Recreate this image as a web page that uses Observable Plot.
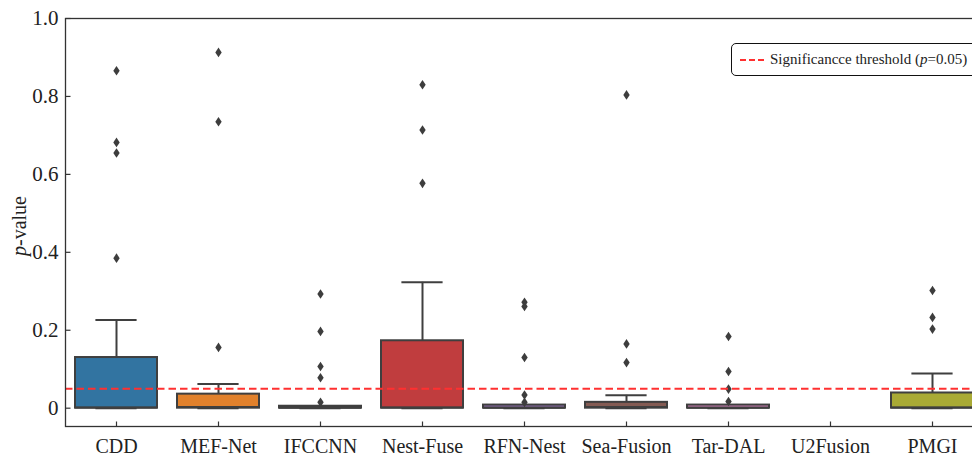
<!DOCTYPE html>
<html><head><meta charset="utf-8">
<script src="https://cdn.jsdelivr.net/npm/d3@7"></script>
<script src="https://cdn.jsdelivr.net/npm/@observablehq/plot@0.6"></script>
<style>
body{margin:0;background:#fff;}
#wrap{position:relative;width:972px;height:458px;overflow:hidden;background:#fff;}
#wrap svg{max-width:none !important;display:block;}
.legend{position:absolute;left:731px;top:43px;width:252px;height:33px;border:1.6px solid #111;border-radius:5px;background:#fff;box-sizing:border-box;font-family:"Liberation Serif",serif;font-size:15px;color:#222;display:flex;align-items:center;white-space:nowrap;}
.legend svg{margin-left:8px;margin-right:6px;}
</style></head><body><div id="wrap"></div>
<script>
// ---- data ----
const methods = ["CDD","MEF-Net","IFCCNN","Nest-Fuse","RFN-Nest","Sea-Fusion","Tar-DAL","U2Fusion","PMGI"];
const colors  = ["#3274a1","#e1812c","#3a923a","#c03d3e","#9372b2","#845b53","#d684bd","#7f7f7f","#a9aa35"];
const q1          = [0, 0, 0, 0, 0, 0, 0, null, 0];
const median      = [0.002, 0.003, 0.001, 0.002, 0.001, 0.003, 0.001, null, 0.002];
const q3          = [0.130, 0.036, 0.005, 0.173, 0.008, 0.015, 0.008, null, 0.039];
const whiskerLow  = [0, 0, 0, 0, 0, 0, 0, null, 0];
const whiskerHigh = [0.226, 0.062, 0.005, 0.323, 0.008, 0.033, 0.008, null, 0.089];
const outliers = [
  [0.866, 0.682, 0.655, 0.385],
  [0.913, 0.735, 0.156],
  [0.293, 0.197, 0.107, 0.078, 0.015],
  [0.830, 0.714, 0.577],
  [0.272, 0.261, 0.130, 0.034, 0.015],
  [0.804, 0.165, 0.117],
  [0.184, 0.094, 0.049, 0.017],
  [],
  [0.302, 0.233, 0.203]
];
const threshold = 0.05;
const yTicks = [0, 0.2, 0.4, 0.6, 0.8, 1.0];

// ---- derived tables ----
const boxes = methods.map((m, i) => ({method: m, color: colors[i], q1: q1[i], med: median[i], q3: q3[i], lo: whiskerLow[i], hi: whiskerHigh[i]}))
  .filter(d => d.q3 != null);
const pts = methods.flatMap((m, i) => outliers[i].map(v => ({method: m, value: v})));

// custom symbols
const thinDiamond = {draw(ctx){ const h = 4.8, w = 3.2; ctx.moveTo(0,-h); ctx.lineTo(w,0); ctx.lineTo(0,h); ctx.lineTo(-w,0); ctx.closePath(); }};
const tickRight = {draw(ctx){ ctx.moveTo(0,0); ctx.lineTo(5,0); }};
const tickUp = {draw(ctx){ ctx.moveTo(0,0); ctx.lineTo(0,-5); }};

const edge = "#3f3f3f";
const plot = Plot.plot({
  width: 990, height: 458,
  marginLeft: 65, marginRight: 7, marginTop: 18, marginBottom: 32,
  style: {fontFamily: "'Liberation Serif', serif", color: "#222", background: "#fff"},
  x: {domain: methods, paddingInner: 0.2, paddingOuter: 0.1, label: null},
  y: {domain: [-0.047, 1.0], label: null},
  color: {type: "identity"},
  marks: [
    Plot.ruleX(boxes, {x: "method", y1: "q3", y2: "hi", stroke: edge, strokeWidth: 2}),
    Plot.ruleX(boxes, {x: "method", y1: "q1", y2: "lo", stroke: edge, strokeWidth: 2}),
    Plot.tickY(boxes, {x: "method", y: "hi", stroke: edge, strokeWidth: 2, insetLeft: 20.4, insetRight: 20.4}),
    Plot.tickY(boxes, {x: "method", y: "lo", stroke: edge, strokeWidth: 2, insetLeft: 20.4, insetRight: 20.4}),
    Plot.barY(boxes, {x: "method", y1: "q1", y2: "q3", fill: "color", stroke: edge, strokeWidth: 2}),
    Plot.tickY(boxes, {x: "method", y: "med", stroke: edge, strokeWidth: 2}),
    Plot.dot(pts, {x: "method", y: "value", symbol: thinDiamond, fill: "#3d3d3d", stroke: "none"}),
    Plot.ruleY([threshold], {stroke: "#ff3030", strokeWidth: 2, strokeDasharray: "7.5,4"}),
    Plot.frame({stroke: "#333", strokeWidth: 1.3}),
    Plot.dot(yTicks, {y: d => d, frameAnchor: "left", symbol: tickRight, stroke: "#333", strokeWidth: 1.2}),
    Plot.dot(methods, {x: d => d, frameAnchor: "bottom", symbol: tickUp, stroke: "#333", strokeWidth: 1.2}),
    Plot.axisY(yTicks, {tickSize: 0, tickPadding: 7, fontSize: 21, tickFormat: d => d === 0 ? "0" : d.toFixed(1), label: null}),
    Plot.axisX({tickSize: 0, tickPadding: 12, fontSize: 20, label: null})
  ]
});

// y-axis title with italic p
const svg = d3.select(plot);
const t = svg.append("text")
  .attr("transform", "translate(26,226) rotate(-90)")
  .attr("text-anchor", "middle")
  .attr("font-family", "'Liberation Serif', serif")
  .attr("font-size", 20)
  .attr("fill", "#222");
t.append("tspan").attr("font-style", "italic").text("p");
t.append("tspan").text("-value");

const wrap = document.getElementById("wrap");
wrap.appendChild(plot);

// legend
const lg = document.createElement("div");
lg.className = "legend";
lg.innerHTML = '<svg width="24" height="4"><line x1="0" y1="2" x2="24" y2="2" stroke="#ff3030" stroke-width="2" stroke-dasharray="6,3"/></svg>' +
  '<span>Significancce threshold (<i>p</i>=0.05)</span>';
wrap.appendChild(lg);
</script>
</body></html>
